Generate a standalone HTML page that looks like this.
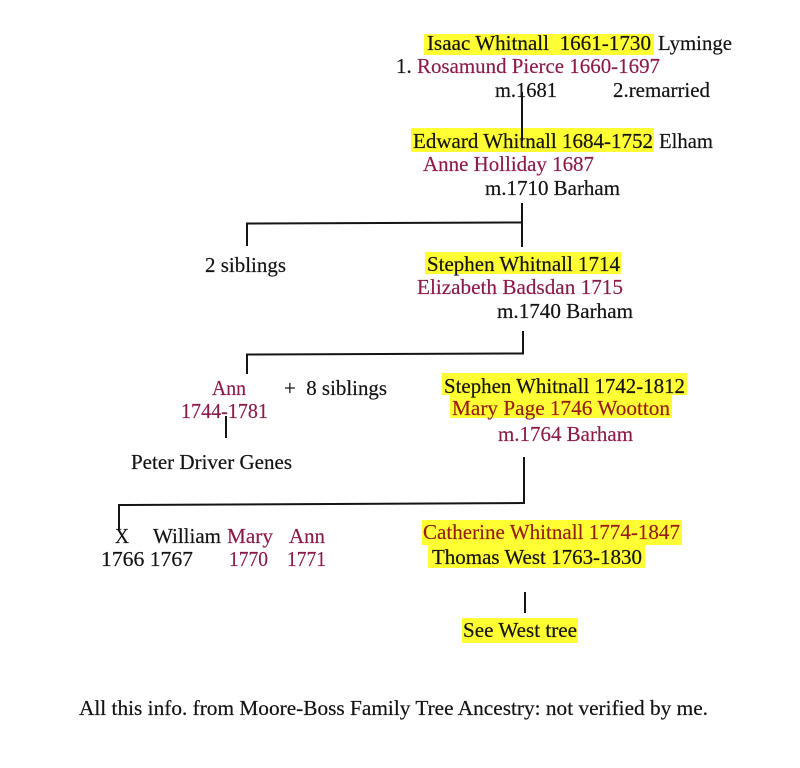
<!DOCTYPE html>
<html>
<head>
<meta charset="utf-8">
<style>
  html, body { margin:0; padding:0; background:#fff; }
  svg { display:block; }
  text { font-family: "Liberation Serif", "Times New Roman", serif; font-size:21px; }
  .k { fill:#141414; stroke:#141414; stroke-width:0.2; }
  .p { fill:#8c1a4b; stroke:#8c1a4b; stroke-width:0.15; }
  .r { fill:#961c14; stroke:#961c14; stroke-width:0.15; }
  .y { fill:#ffff33; }
  .ln { stroke:#151515; stroke-width:2; fill:none; }
</style>
</head>
<body>
<svg width="800" height="768" viewBox="0 0 800 768" xmlns="http://www.w3.org/2000/svg">
  <rect x="0" y="0" width="800" height="768" fill="#ffffff"/>

  <!-- highlights -->
  <rect class="y" x="424" y="34" width="230" height="21"/>
  <rect class="y" x="411" y="128" width="243" height="24"/>
  <rect class="y" x="425" y="252" width="196" height="22"/>
  <rect class="y" x="442" y="373" width="245" height="22"/>
  <rect class="y" x="450" y="395" width="222" height="23"/>
  <rect class="y" x="422" y="520" width="260" height="25"/>
  <rect class="y" x="428" y="545" width="217" height="23"/>
  <rect class="y" x="462" y="618" width="116" height="25"/>

  <!-- connectors -->
  <line class="ln" x1="522" y1="92" x2="522" y2="141"/>
  <line class="ln" x1="522" y1="203" x2="522" y2="247"/>
  <line class="ln" x1="246" y1="223.5" x2="523" y2="222.5"/>
  <line class="ln" x1="247" y1="223" x2="247" y2="246"/>

  <line class="ln" x1="523" y1="331" x2="523" y2="354"/>
  <line class="ln" x1="246" y1="354.5" x2="524" y2="353.5"/>
  <line class="ln" x1="247" y1="354" x2="247" y2="374"/>
  <line class="ln" x1="226" y1="416" x2="226" y2="438"/>

  <line class="ln" x1="524" y1="457" x2="524" y2="504"/>
  <line class="ln" x1="118" y1="505" x2="525" y2="503"/>
  <line class="ln" x1="119" y1="504" x2="119" y2="530"/>

  <line class="ln" x1="525" y1="592" x2="525" y2="613"/>

  <!-- generation 1 -->
  <text class="k" x="427" y="50" textLength="224" lengthAdjust="spacingAndGlyphs" xml:space="preserve">Isaac Whitnall  1661-1730</text>
  <text class="k" x="658" y="50" textLength="74" lengthAdjust="spacingAndGlyphs">Lyminge</text>
  <text class="k" x="396" y="73">1.</text>
  <text class="p" x="417" y="73" textLength="243" lengthAdjust="spacingAndGlyphs">Rosamund Pierce 1660-1697</text>
  <text class="k" x="495" y="97" textLength="62" lengthAdjust="spacingAndGlyphs">m.1681</text>
  <text class="k" x="613" y="97" textLength="97" lengthAdjust="spacingAndGlyphs">2.remarried</text>

  <!-- generation 2 -->
  <text class="k" x="413" y="148" textLength="240" lengthAdjust="spacingAndGlyphs">Edward Whitnall 1684-1752</text>
  <text class="k" x="659" y="148" textLength="54" lengthAdjust="spacingAndGlyphs">Elham</text>
  <text class="p" x="423" y="171" textLength="171" lengthAdjust="spacingAndGlyphs">Anne Holliday 1687</text>
  <text class="k" x="485" y="195" textLength="135" lengthAdjust="spacingAndGlyphs">m.1710 Barham</text>

  <!-- generation 3 -->
  <text class="k" x="205" y="272" textLength="81" lengthAdjust="spacingAndGlyphs">2 siblings</text>
  <text class="k" x="427" y="271" textLength="193" lengthAdjust="spacingAndGlyphs">Stephen Whitnall 1714</text>
  <text class="p" x="417" y="294" textLength="206" lengthAdjust="spacingAndGlyphs">Elizabeth Badsdan 1715</text>
  <text class="k" x="497" y="318" textLength="136" lengthAdjust="spacingAndGlyphs">m.1740 Barham</text>

  <!-- generation 4 -->
  <text class="p" x="212" y="395" textLength="34" lengthAdjust="spacingAndGlyphs">Ann</text>
  <text class="k" x="284" y="395" textLength="103" lengthAdjust="spacingAndGlyphs" xml:space="preserve">+  8 siblings</text>
  <text class="p" x="181" y="418" textLength="87" lengthAdjust="spacingAndGlyphs">1744-1781</text>
  <text class="k" x="131" y="469" textLength="161" lengthAdjust="spacingAndGlyphs">Peter Driver Genes</text>

  <text class="k" x="444" y="393" textLength="241" lengthAdjust="spacingAndGlyphs">Stephen Whitnall 1742-1812</text>
  <text class="r" x="452" y="415" textLength="218" lengthAdjust="spacingAndGlyphs">Mary Page 1746 Wootton</text>
  <text class="p" x="498" y="441" textLength="135" lengthAdjust="spacingAndGlyphs">m.1764 Barham</text>

  <!-- generation 5 -->
  <text class="k" x="115" y="543" textLength="14" lengthAdjust="spacingAndGlyphs">X</text>
  <text class="k" x="153" y="543" textLength="68" lengthAdjust="spacingAndGlyphs">William</text>
  <text class="p" x="227" y="543" textLength="46" lengthAdjust="spacingAndGlyphs">Mary</text>
  <text class="p" x="289" y="543" textLength="36" lengthAdjust="spacingAndGlyphs">Ann</text>
  <text class="k" x="101" y="566" textLength="92" lengthAdjust="spacingAndGlyphs">1766 1767</text>
  <text class="p" x="229" y="566" textLength="39" lengthAdjust="spacingAndGlyphs">1770</text>
  <text class="p" x="287" y="566" textLength="39" lengthAdjust="spacingAndGlyphs">1771</text>

  <text class="r" x="423" y="539" textLength="257" lengthAdjust="spacingAndGlyphs">Catherine Whitnall 1774-1847</text>
  <text class="k" x="432" y="564" textLength="210" lengthAdjust="spacingAndGlyphs">Thomas West 1763-1830</text>
  <text class="k" x="463" y="637" textLength="114" lengthAdjust="spacingAndGlyphs">See West tree</text>

  <!-- footnote -->
  <text class="k" x="79" y="715" textLength="629" lengthAdjust="spacingAndGlyphs">All this info. from Moore-Boss Family Tree Ancestry: not verified by me.</text>
</svg>
</body>
</html>
